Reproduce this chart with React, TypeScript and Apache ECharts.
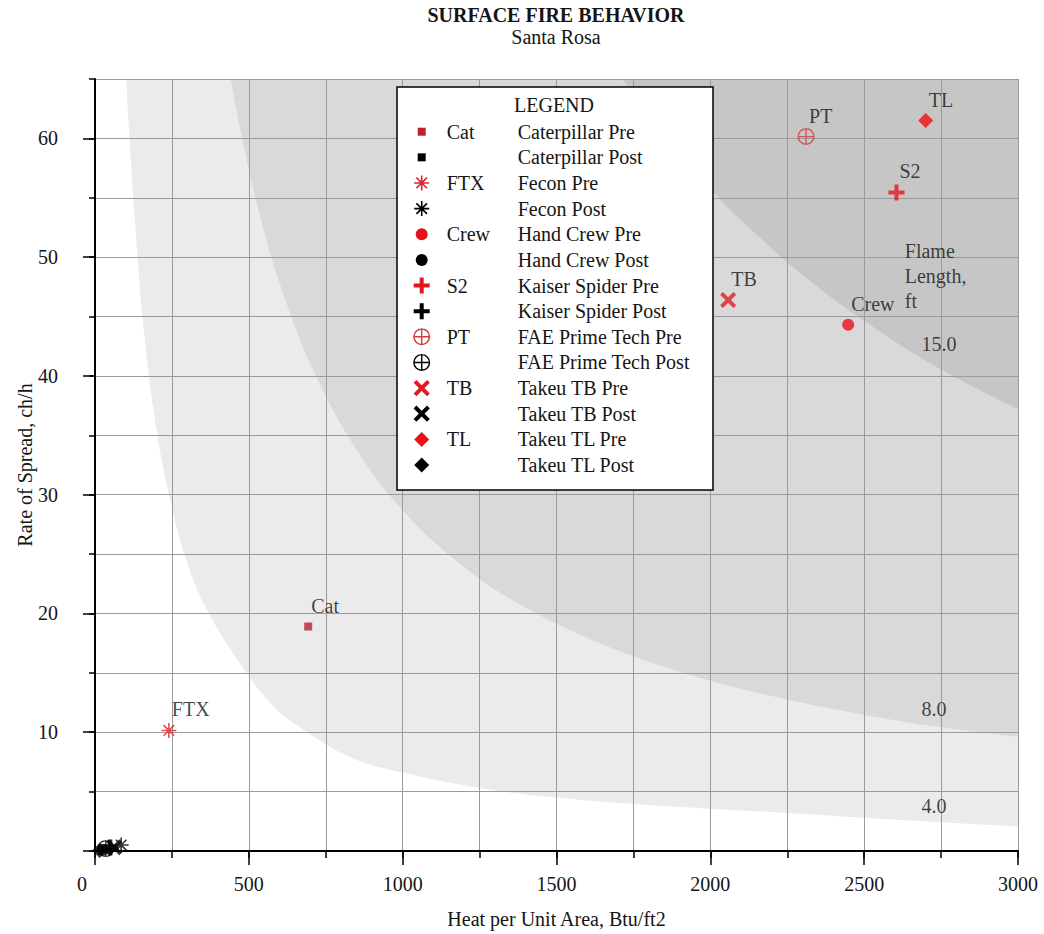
import React, { useEffect, useRef } from 'react';
import * as echarts from 'echarts';

// ---------------- data ----------------
const machines = ['Caterpillar', 'Fecon', 'Hand Crew', 'Kaiser Spider', 'FAE Prime Tech', 'Takeu TB', 'Takeu TL'];
const abbrevs = ['Cat', 'FTX', 'Crew', 'S2', 'PT', 'TB', 'TL'];
// Pre-treatment (HPA Btu/ft2, ROS ch/h)
const preHPA = [693, 240, 2448, 2605, 2311, 2058, 2700];
const preROS = [18.9, 10.15, 44.3, 55.45, 60.15, 46.4, 61.5];
// Post-treatment (cluster near origin)
const postHPA = [40, 85, 25, 50, 35, 62, 15];
const postROS = [0.25, 0.5, 0.1, 0.3, 0.2, 0.32, 0.05];

// Flame length boundaries [HPA, ROS]
const flame4 = [[85, 80], [97, 68], [110, 61], [130, 53], [160, 43.5], [200, 35.5], [244, 29.6], [300, 24.2], [374, 19.8], [493, 15.0], [580, 12.2], [666, 10.4], [829, 7.9], [1000, 6.6], [1250, 5.3], [1500, 4.5], [1750, 3.95], [2000, 3.55], [2250, 3.2], [2500, 2.8], [2750, 2.42], [3000, 2.06]];
const flame8 = [[400, 72], [440, 65.2], [480, 59.8], [540, 53.1], [620, 46.3], [720, 39.9], [850, 33.8], [1000, 28.7], [1200, 23.9], [1400, 20.5], [1650, 17.4], [1900, 15.1], [2150, 13.35], [2421, 11.85], [2700, 10.6], [3000, 9.6]];
const flame15 = [[1650, 67.6], [1715, 65], [1800, 61.9], [1900, 58.7], [2026, 55.0], [2150, 51.9], [2300, 48.5], [2508, 44.5], [2746, 40.6], [3000, 37.2]];

const flameLabelText = ['Flame\nLength,\nft', '15.0', '8.0', '4.0'];
const flameLabelHPA = [2632, 2743, 2727, 2727];
const flameLabelROS = [48.4, 42.65, 11.97, 3.83];

const xTickLabels = [0, 500, 1000, 1500, 2000, 2500, 3000];
const yTickLabels = [10, 20, 30, 40, 50, 60];

// ---------------- styling helpers ----------------
const FONT = "'Liberation Serif', 'Times New Roman', serif";
const TXT = '#151515';

function bar(angleDeg: number, L: number, w: number) {
  const a = (angleDeg * Math.PI) / 180;
  const ux = Math.cos(a), uy = Math.sin(a);
  const nx = -uy, ny = ux;
  const hl = L / 2, hw = w / 2;
  const pts = [
    [hl * ux + hw * nx, hl * uy + hw * ny],
    [-hl * ux + hw * nx, -hl * uy + hw * ny],
    [-hl * ux - hw * nx, -hl * uy - hw * ny],
    [hl * ux - hw * nx, hl * uy - hw * ny],
  ];
  return 'M' + pts.map((p) => p[0].toFixed(3) + ' ' + p[1].toFixed(3)).join(' L') + ' Z';
}
function circ(r: number, cw: boolean) {
  const s = cw ? 1 : 0;
  return `M0 ${-r} A${r} ${r} 0 1 ${s} 0 ${r} A${r} ${r} 0 1 ${s} 0 ${-r} Z`;
}
const symbolDefs = [
  { name: 'symSquare', d: 'M-4 -4 L4 -4 L4 4 L-4 4 Z', size: 8 },
  { name: 'symAsterisk', d: [0, 45, 90, 135].map((a) => bar(a, 15, 1.6)).join(' '), size: 15 },
  { name: 'symCircle', d: circ(6, true), size: 12 },
  { name: 'symPlus', d: bar(0, 16, 4) + ' ' + bar(90, 16, 4), size: 16 },
  { name: 'symCross', d: circ(8.5, true) + ' ' + circ(7.1, false) + ' ' + bar(0, 17, 1.4) + ' ' + bar(90, 17, 1.4), size: 17 },
  { name: 'symX', d: bar(45, 19, 4) + ' ' + bar(135, 19, 4), size: 16 },
  { name: 'symDiamond', d: 'M0 -7.5 L7.5 0 L0 7.5 L-7.5 0 Z', size: 15 },
];
symbolDefs.forEach((s) => {
  echarts.graphic.registerShape(s.name, echarts.graphic.extendPath(s.d, {}));
});
const preColors = ['#b8232e', '#d8262c', '#e8101a', '#e4161d', '#d63a3a', '#e01b20', '#ec1018'];

export default function App() {
  const ref = useRef<HTMLDivElement>(null);
  useEffect(() => {
    document.body.style.margin = '0';
    if (!ref.current) return;
    const chart = echarts.init(ref.current, undefined, { renderer: 'svg' });

    const areaSeries = (name: string, data: number[][], color: string) => ({
      type: 'line',
      name,
      data,
      smooth: 0.4,
      symbol: 'none',
      showSymbol: false,
      silent: true,
      z: -1,
      clip: true,
      lineStyle: { width: 0, opacity: 0 },
      areaStyle: { color, opacity: 1, origin: 'end' },
      xAxisIndex: 0,
      yAxisIndex: 0,
    });

    const series: any[] = [
      areaSeries('FL4', flame4, '#ebebeb'),
      areaSeries('FL8', flame8, '#d9d9d9'),
      areaSeries('FL15', flame15, '#c6c6c6'),
    ];

    machines.forEach((m, i) => {
      const s = symbolDefs[i];
      series.push({
        type: 'scatter',
        name: m + ' Pre',
        data: [[preHPA[i], preROS[i]]],
        symbol: 'path://' + s.d,
        symbolSize: s.size,
        itemStyle: { color: preColors[i] },
        z: 5,
        label: {
          show: true,
          formatter: abbrevs[i],
          position: 'inside',
          align: 'left',
          verticalAlign: 'middle',
          offset: [3, -21],
          fontFamily: FONT,
          fontSize: 20,
          color: TXT,
        },
      });
      series.push({
        type: 'scatter',
        name: m + ' Post',
        data: [[postHPA[i], postROS[i]]],
        symbol: 'path://' + s.d,
        symbolSize: s.size,
        itemStyle: { color: '#000' },
        z: 4,
      });
    });

    series.push({
      type: 'scatter',
      name: 'flame labels',
      silent: true,
      symbolSize: 1,
      itemStyle: { color: 'rgba(0,0,0,0)' },
      z: 6,
      data: flameLabelText.map((t, i) => ({
        value: [flameLabelHPA[i], flameLabelROS[i]],
        label: {
          show: true,
          formatter: t,
          position: 'inside',
          align: i === 0 ? 'left' : 'center',
          verticalAlign: 'middle',
          lineHeight: 25,
          fontFamily: FONT,
          fontSize: 20,
          color: TXT,
        },
      })),
    });

    // legend graphic
    const g: any[] = [
      {
        type: 'rect',
        z: 50,
        shape: { x: 397, y: 87, width: 316, height: 403 },
        style: { fill: '#fff', stroke: '#000', lineWidth: 1.5 },
      },
      {
        type: 'text',
        z: 51,
        x: 514,
        y: 105,
        style: { text: 'LEGEND', fontSize: 20, fontFamily: FONT, fill: TXT, align: 'left', verticalAlign: 'middle' },
      },
    ];
    machines.forEach((m, i) => {
      [0, 1].forEach((k) => {
        const row = i * 2 + k;
        const y = 131.7 + 25.64 * row;
        g.push({
          type: symbolDefs[i].name,
          z: 51,
          x: 421.7,
          y,
          style: { fill: k === 0 ? preColors[i] : '#000' },
        });
        if (k === 0) {
          g.push({
            type: 'text',
            z: 51,
            x: 446.7,
            y,
            style: { text: abbrevs[i], fontSize: 20, fontFamily: FONT, fill: TXT, align: 'left', verticalAlign: 'middle' },
          });
        }
        g.push({
          type: 'text',
          z: 51,
          x: 517.7,
          y,
          style: { text: m + (k === 0 ? ' Pre' : ' Post'), fontSize: 20, fontFamily: FONT, fill: TXT, align: 'left', verticalAlign: 'middle' },
        });
      });
    });
    g.push({
      type: 'text',
      z: 51,
      x: 556,
      y: 15,
      style: { text: 'SURFACE FIRE BEHAVIOR', fontSize: 20, fontWeight: 'bold', fontFamily: FONT, fill: TXT, align: 'center', verticalAlign: 'middle' },
    });
    g.push({
      type: 'text',
      z: 51,
      x: 556,
      y: 37,
      style: { text: 'Santa Rosa', fontSize: 20, fontFamily: FONT, fill: TXT, align: 'center', verticalAlign: 'middle' },
    });

    const axisLineStyle = { color: '#000', width: 2 };
    const tickStyle = { color: '#000', width: 1.5 };
    const gridLine = { color: '#9a9a9a', width: 1 };

    chart.setOption({
      animation: false,
      backgroundColor: '#fff',
      grid: { left: 95, right: 26, top: 79, bottom: 81.5, containLabel: false },
      xAxis: [
        {
          type: 'value',
          min: 0,
          max: 3000,
          interval: 250,
          position: 'bottom',
          axisLine: { show: true, onZero: false, lineStyle: axisLineStyle },
          axisTick: { show: true, length: 7, lineStyle: tickStyle },
          axisLabel: { show: false },
          splitLine: { show: true, lineStyle: gridLine },
          name: 'Heat per Unit Area, Btu/ft2',
          nameLocation: 'middle',
          nameGap: 58,
          nameTextStyle: { fontFamily: FONT, fontSize: 20, color: TXT },
        },
        {
          type: 'value',
          min: 0,
          max: 3000,
          interval: 500,
          position: 'bottom',
          axisLine: { show: false, onZero: false },
          axisTick: { show: true, length: 14, lineStyle: tickStyle, customValues: xTickLabels },
          axisLabel: {
            show: true,
            margin: 23,
            customValues: xTickLabels,
            fontFamily: FONT,
            fontSize: 20,
            color: TXT,
            formatter: (v: number) => (v === 0 ? '{z|0}' : String(v)),
            rich: { z: { fontFamily: FONT, fontSize: 20, color: TXT, padding: [0, 26, 0, 0] } },
          },
          splitLine: { show: false },
        },
      ],
      yAxis: [
        {
          type: 'value',
          min: 0,
          max: 65,
          interval: 5,
          position: 'left',
          axisLine: { show: true, onZero: false, lineStyle: axisLineStyle },
          axisTick: { show: true, length: 6, lineStyle: tickStyle },
          axisLabel: { show: false },
          splitLine: { show: true, lineStyle: gridLine },
          name: 'Rate of Spread, ch/h',
          nameLocation: 'middle',
          nameGap: 60,
          nameTextStyle: { fontFamily: FONT, fontSize: 20, color: TXT },
        },
        {
          type: 'value',
          min: 0,
          max: 65,
          interval: 10,
          position: 'left',
          axisLine: { show: false, onZero: false },
          axisTick: { show: true, length: 12, lineStyle: tickStyle, customValues: [0, ...yTickLabels] },
          axisLabel: {
            show: true,
            margin: 37,
            customValues: yTickLabels,
            fontFamily: FONT,
            fontSize: 20,
            color: TXT,
          },
          splitLine: { show: false },
        },
      ],
      graphic: g,
      series,
    });
    return () => chart.dispose();
  }, []);
  return <div ref={ref} style={{ width: 1044, height: 934 }} />;
}
